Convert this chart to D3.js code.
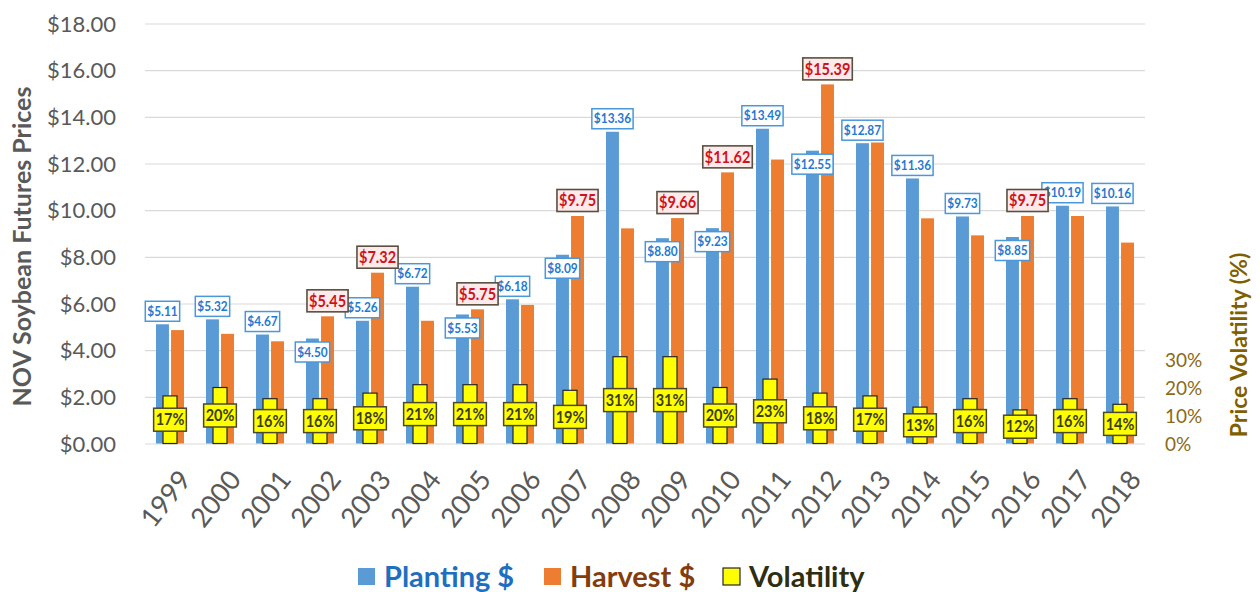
<!DOCTYPE html>
<html>
<head>
<meta charset="utf-8">
<script src="https://cdn.jsdelivr.net/npm/d3@7"></script>
<style>
  html, body { margin: 0; padding: 0; background: #fff; }
  svg { display: block; }
</style>
</head>
<body>
<svg id="chart" width="1260" height="592"></svg>
<script>
const years = ['1999','2000','2001','2002','2003','2004','2005','2006','2007','2008','2009','2010','2011','2012','2013','2014','2015','2016','2017','2018'];
const planting = [5.11, 5.32, 4.67, 4.50, 5.26, 6.72, 5.53, 6.18, 8.09, 13.36, 8.80, 9.23, 13.49, 12.55, 12.87, 11.36, 9.73, 8.85, 10.19, 10.16];
const harvest = [4.86, 4.70, 4.38, 5.45, 7.32, 5.26, 5.75, 5.94, 9.75, 9.22, 9.66, 11.62, 12.17, 15.39, 12.90, 9.65, 8.92, 9.75, 9.75, 8.61];
const volatility = [0.17, 0.20, 0.16, 0.16, 0.18, 0.21, 0.21, 0.21, 0.19, 0.31, 0.31, 0.20, 0.23, 0.18, 0.17, 0.13, 0.16, 0.12, 0.16, 0.14];
const priceTicks = [0, 2, 4, 6, 8, 10, 12, 14, 16, 18];
const volTicks = [0, 0.1, 0.2, 0.3];
const harvestLabelYears = ['2002','2003','2005','2007','2009','2010','2012','2016'];
const plantingInsideYears = ['2002','2005','2007','2009','2010','2012','2016'];
const seriesNames = ['Planting $', 'Harvest $', 'Volatility'];

(function () {
const svg = d3.select('#chart');
const pLeft = 145, pRight = 1145, pTop = 23.5, pBottom = 443.5;

const x = d3.scaleBand().domain(years).range([pLeft, pRight]).paddingInner(0.44).paddingOuter(0.22);
const xs = d3.scaleBand().domain(['p', 'h']).range([0, x.bandwidth()]).paddingInner(0.14);
const y = d3.scaleLinear().domain([0, 18]).range([pBottom, pTop]);
const yv = d3.scaleLinear().domain([0, 1.5]).range([pBottom, pTop]);
const cx = d => x(d) + x.bandwidth() / 2;

const mainFont = "Lato, 'Open Sans', sans-serif";
const squeeze = 0.88;

// gridlines
svg.append('g').selectAll('line').data(priceTicks).join('line')
  .attr('x1', pLeft).attr('x2', pRight)
  .attr('y1', d => y(d) + 0.5).attr('y2', d => y(d) + 0.5)
  .attr('stroke', '#d9d9d9').attr('stroke-width', 1.2);

// left axis
const yAxis = d3.axisLeft(y).tickValues(priceTicks).tickSize(0).tickPadding(0)
  .tickFormat(d => '$' + d3.format('.2f')(d));
const ga = svg.append('g').attr('transform', 'translate(116,0)').call(yAxis);
ga.select('.domain').remove();
ga.selectAll('text').attr('fill', '#595959').attr('font-family', mainFont).attr('font-size', 22).attr('dy', '0.35em');

// right axis
const vAxis = d3.axisRight(yv).tickValues(volTicks).tickSize(0).tickPadding(0)
  .tickFormat(d3.format('.0%'));
const gv = svg.append('g').attr('transform', 'translate(1165,0)').call(vAxis);
gv.select('.domain').remove();
gv.selectAll('text').attr('fill', '#8a6a18').attr('font-family', mainFont).attr('font-size', 19).attr('dy', '0.35em');

// axis titles
svg.append('text').attr('transform', `translate(31,${(85 + 408) / 2}) rotate(-90)`)
  .attr('text-anchor', 'middle').attr('font-family', mainFont).attr('font-weight', 'bold')
  .attr('font-size', 25).attr('fill', '#595959').text('NOV Soybean Futures Prices');
svg.append('text').attr('transform', `translate(1247,345) rotate(-90)`)
  .attr('text-anchor', 'middle').attr('font-family', mainFont).attr('font-weight', 'bold')
  .attr('font-size', 23).attr('fill', '#7f6000').text('Price Volatility (%)');

// x labels
svg.append('g').selectAll('text').data(years).join('text')
  .attr('transform', d => `translate(${cx(d) + 7},${468}) rotate(-52)`)
  .attr('text-anchor', 'end').attr('dy', '0.72em')
  .attr('font-family', mainFont).attr('font-size', 27).attr('fill', '#595959').text(d => d);

// bars
svg.append('g').selectAll('rect').data(years).join('rect')
  .attr('x', d => x(d) + xs('p')).attr('width', xs.bandwidth())
  .attr('y', (d, i) => y(planting[i])).attr('height', (d, i) => pBottom - y(planting[i]))
  .attr('fill', '#5b9bd5');
svg.append('g').selectAll('rect').data(years).join('rect')
  .attr('x', d => x(d) + xs('h')).attr('width', xs.bandwidth())
  .attr('y', (d, i) => y(harvest[i])).attr('height', (d, i) => pBottom - y(harvest[i]))
  .attr('fill', '#ed7d31');

// volatility bars
const vw = 15;
svg.append('g').selectAll('rect').data(years).join('rect')
  .attr('x', d => cx(d) - vw / 2 + 0.5).attr('width', vw - 1)
  .attr('y', (d, i) => yv(volatility[i])).attr('height', (d, i) => pBottom - yv(volatility[i]))
  .attr('fill', '#ffff00').attr('stroke', '#262626').attr('stroke-width', 1.2);

// label helper
function boxLabel(g, xc, yc, txt, opts) {
  const gg = g.append('g');
  const t = gg.append('text')
    .attr('transform', `translate(${xc},${yc}) scale(${squeeze},1)`)
    .attr('dy', '0.35em')
    .attr('text-anchor', 'middle').attr('font-family', mainFont).attr('font-weight', 'bold')
    .attr('font-size', opts.size).attr('fill', opts.color).text(txt);
  const w = t.node().getComputedTextLength() * squeeze + opts.pad * 2;
  gg.insert('rect', 'text')
    .attr('x', xc - w / 2).attr('y', yc - opts.h / 2).attr('width', w).attr('height', opts.h)
    .attr('fill', opts.fill).attr('stroke', opts.stroke).attr('stroke-width', opts.sw);
}

// planting labels
const gp = svg.append('g');
years.forEach((yr, i) => {
  const v = planting[i];
  const xc = x(yr) + xs('p') + xs.bandwidth() / 2;
  const inside = plantingInsideYears.includes(yr);
  const yc = inside ? y(v) + 13.5 : y(v) - 13;
  boxLabel(gp, xc, yc, '$' + d3.format('.2f')(v),
    { size: 13.5, color: '#1f7ad1', fill: '#ffffff', stroke: '#4a97dc', sw: 1.5, pad: 2, h: 20 });
});

// harvest labels
const gh = svg.append('g');
years.forEach((yr, i) => {
  if (!harvestLabelYears.includes(yr)) return;
  const v = harvest[i];
  const xc = x(yr) + xs('h') + xs.bandwidth() / 2;
  const yc = y(v) - 15.5;
  boxLabel(gh, xc, yc, '$' + d3.format('.2f')(v),
    { size: 16.5, color: '#d0121b', fill: '#fdeaea', stroke: '#595040', sw: 1.6, pad: 2, h: 22 });
});

// volatility labels
const gvl = svg.append('g');
years.forEach((yr, i) => {
  const v = volatility[i];
  boxLabel(gvl, cx(yr), yv(v / 2), d3.format('.0%')(v),
    { size: 16.5, color: '#3d3d14', fill: '#ffff00', stroke: '#4d4630', sw: 1.5, pad: 2, h: 23 });
});

// legend
const legend = [
  { name: seriesNames[0], color: '#5b9bd5', text: '#1f6fc0', stroke: 'none', x: 358 },
  { name: seriesNames[1], color: '#ed7d31', text: '#843c0c', stroke: 'none', x: 544 },
  { name: seriesNames[2], color: '#ffff00', text: '#2e2e10', stroke: '#262626', x: 723 }
];
const gl = svg.append('g');
legend.forEach(l => {
  gl.append('rect').attr('x', l.x).attr('y', 568).attr('width', 17).attr('height', 17)
    .attr('fill', l.color).attr('stroke', l.stroke).attr('stroke-width', 1.2);
  gl.append('text').attr('x', l.x + 26).attr('y', 577).attr('dy', '0.35em')
    .attr('font-family', mainFont).attr('font-weight', 'bold').attr('font-size', 29)
    .attr('fill', l.text).text(l.name);
});
})();
</script>
</body>
</html>
